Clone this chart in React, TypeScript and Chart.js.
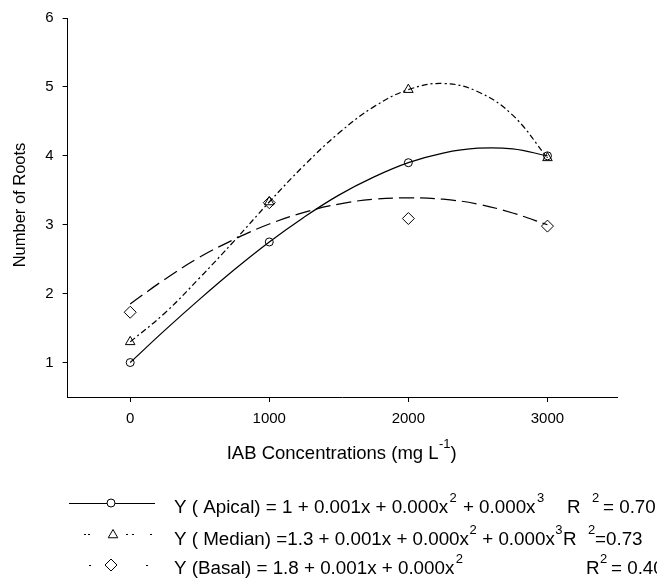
import React, { useEffect, useRef } from "react";
import { Chart, registerables } from "chart.js";

Chart.register(...registerables);

// ---- data ----
const concentrations = [0, 1000, 2000, 3000];
const apicalRoots = [1.0, 2.75, 3.9, 4.0];
const medianRoots = [1.3, 3.33, 4.96, 3.97];
const basalRoots = [1.73, 3.32, 3.09, 2.98];

// fitted regression curves, sampled along the drawn curves
const fitConcentrations = [0, 250, 500, 750, 1000, 1250, 1500, 1750, 2000, 2250, 2500, 2750, 3000];
const apicalFit = [1.0, 1.47, 1.92, 2.35, 2.75, 3.11, 3.43, 3.69, 3.9, 4.04, 4.11, 4.1, 4.0];
const medianFit = [1.3, 1.72, 2.23, 2.77, 3.33, 3.86, 4.33, 4.71, 4.96, 5.05, 4.93, 4.59, 3.97];
const basalFit = [1.85, 2.21, 2.53, 2.79, 3.01, 3.18, 3.3, 3.37, 3.39, 3.37, 3.3, 3.17, 3.0];

const xTickValues = [0, 1000, 2000, 3000];
const yTickValues = [1, 2, 3, 4, 5, 6];
const xRange = [-450, 3500];
const yRange = [0.5, 6];

const yAxisTitle = "Number of Roots";
const xAxisTitle = ["IAB Concentrations (mg L", "-1", ")"];

const apicalEquation = ["Y ( Apical) = 1 + 0.001x + 0.000x", "2", " + 0.000x", "3"];
const medianEquation = ["Y ( Median) =1.3 + 0.001x + 0.000x", "2", " + 0.000x", "3"];
const basalEquation = ["Y (Basal) = 1.8 + 0.001x + 0.000x", "2"];
const rSquaredValues = ["= 0.70", "=0.73", "= 0.40"];

const FONT = '"Liberation Sans", Arial, Helvetica, sans-serif';

const toPoints = (xs: number[], ys: number[]) => xs.map((x, i) => ({ x, y: ys[i] }));

function drawCircle(ctx: CanvasRenderingContext2D, x: number, y: number, r: number) {
  ctx.beginPath();
  ctx.arc(x, y, r, 0, Math.PI * 2);
  ctx.stroke();
}
function drawTriangle(ctx: CanvasRenderingContext2D, x: number, y: number, r: number) {
  ctx.beginPath();
  ctx.moveTo(x, y - r);
  ctx.lineTo(x + r * Math.sin((2 * Math.PI) / 3), y - r * Math.cos((2 * Math.PI) / 3));
  ctx.lineTo(x + r * Math.sin((4 * Math.PI) / 3), y - r * Math.cos((4 * Math.PI) / 3));
  ctx.closePath();
  ctx.stroke();
}
function drawDiamond(ctx: CanvasRenderingContext2D, x: number, y: number, r: number) {
  ctx.beginPath();
  ctx.moveTo(x, y - r);
  ctx.lineTo(x + r, y);
  ctx.lineTo(x, y + r);
  ctx.lineTo(x - r, y);
  ctx.closePath();
  ctx.stroke();
}

const MAIN_SIZE = 18.8;
const SUP_SIZE = 13;

const annotationPlugin = {
  id: "annotations",
  afterDraw(chart: any) {
    const ctx: CanvasRenderingContext2D = chart.ctx;
    ctx.save();
    ctx.fillStyle = "#000";
    ctx.strokeStyle = "#000";
    ctx.lineWidth = 1;

    // y axis title
    ctx.save();
    ctx.font = `16.5px ${FONT}`;
    ctx.translate(25, 205);
    ctx.rotate(-Math.PI / 2);
    ctx.textAlign = "center";
    ctx.textBaseline = "alphabetic";
    ctx.fillText(yAxisTitle, 0, 0);
    ctx.restore();

    // x axis title
    ctx.textAlign = "left";
    ctx.textBaseline = "alphabetic";
    let tx = 226.7;
    ctx.font = `18.5px ${FONT}`;
    ctx.fillText(xAxisTitle[0], tx, 458.5);
    tx += ctx.measureText(xAxisTitle[0]).width + 0.5;
    ctx.font = `${SUP_SIZE}px ${FONT}`;
    ctx.fillText(xAxisTitle[1], tx, 448);
    tx += ctx.measureText(xAxisTitle[1]).width;
    ctx.font = `18.5px ${FONT}`;
    ctx.fillText(xAxisTitle[2], tx, 458.5);

    // legend equations (main text and superscripts flow one after another)
    const rows = [
      { texts: apicalEquation, base: 513, gap: 1.5, rX: 567, r2X: 592, eqX: 603 },
      { texts: medianEquation, base: 545, gap: 0.5, rX: 563, r2X: 588, eqX: 595 },
      { texts: basalEquation, base: 574, gap: 1.5, rX: 586, r2X: 600, eqX: 611 },
    ];
    rows.forEach((row, ri) => {
      let x = 174;
      row.texts.forEach((t, i) => {
        const sup = i % 2 === 1;
        if (sup) x += row.gap;
        ctx.font = sup ? `${SUP_SIZE}px ${FONT}` : `${MAIN_SIZE}px ${FONT}`;
        ctx.fillText(t, x, sup ? row.base - 11 : row.base);
        x += ctx.measureText(t).width + (sup ? row.gap * 0.6 : 0);
      });
      ctx.font = `${MAIN_SIZE}px ${FONT}`;
      ctx.fillText("R", row.rX, row.base);
      ctx.font = `${SUP_SIZE}px ${FONT}`;
      ctx.fillText("2", row.r2X, row.base - 11);
      ctx.font = `${MAIN_SIZE}px ${FONT}`;
      ctx.fillText(rSquaredValues[ri], row.eqX, row.base);
    });

    // legend samples
    ctx.beginPath();
    ctx.moveTo(69, 503.5);
    ctx.lineTo(107, 503.5);
    ctx.moveTo(115, 503.5);
    ctx.lineTo(155, 503.5);
    ctx.stroke();
    drawCircle(ctx, 111, 503, 4);

    const dots2 = [[84, 86], [88, 90], [126, 128], [132, 134], [150, 152]];
    ctx.beginPath();
    dots2.forEach(([a, b]) => {
      ctx.moveTo(a, 534.5);
      ctx.lineTo(b, 534.5);
    });
    ctx.stroke();
    drawTriangle(ctx, 113, 535, 5.5);

    const dots3 = [[89, 91], [146, 148]];
    ctx.beginPath();
    dots3.forEach(([a, b]) => {
      ctx.moveTo(a, 565.5);
      ctx.lineTo(b, 565.5);
    });
    ctx.stroke();
    drawDiamond(ctx, 111, 565, 6);

    ctx.restore();
  },
};

export default function App() {
  const canvasRef = useRef<HTMLCanvasElement | null>(null);

  useEffect(() => {
    if (!canvasRef.current) return;
    const lineBase = {
      type: "line" as const,
      showLine: true,
      pointRadius: 0,
      borderColor: "#000",
      borderWidth: 1.25,
      tension: 0.4,
      fill: false,
    };
    const pointBase = {
      showLine: false,
      borderColor: "#000",
      backgroundColor: "rgba(0,0,0,0)",
      pointBorderWidth: 1,
      borderWidth: 1,
    };
    const chart = new Chart(canvasRef.current, {
      type: "scatter",
      data: {
        datasets: [
          { ...lineBase, label: "Apical fit", data: toPoints(fitConcentrations, apicalFit) },
          { ...lineBase, label: "Median fit", data: toPoints(fitConcentrations, medianFit), borderDash: [6, 3, 2, 3] },
          { ...lineBase, label: "Basal fit", data: toPoints(fitConcentrations, basalFit), borderDash: [15, 6] },
          { ...pointBase, label: "Apical", data: toPoints(concentrations, apicalRoots), pointStyle: "circle", pointRadius: 4 },
          { ...pointBase, label: "Median", data: toPoints(concentrations, medianRoots), pointStyle: "triangle", pointRadius: 5.5 },
          { ...pointBase, label: "Basal", data: toPoints(concentrations, basalRoots), pointStyle: "rectRot", pointRadius: 6 },
        ] as any,
      },
      options: {
        responsive: false,
        animation: false,
        devicePixelRatio: 1,
        layout: { padding: { left: 0, right: 40, top: 16.4, bottom: 0 } },
        plugins: { legend: { display: false }, tooltip: { enabled: false } },
        scales: {
          x: {
            type: "linear",
            min: xRange[0],
            max: xRange[1],
            afterBuildTicks: (scale: any) => {
              scale.ticks = xTickValues.map((v) => ({ value: v }));
            },
            afterFit: (scale: any) => {
              scale.height = 186;
            },
            ticks: {
              color: "#000",
              font: { family: FONT, size: 15 },
              padding: 8,
              maxRotation: 0,
              autoSkip: false,
              callback: (v: any) => String(v),
            },
            grid: { drawOnChartArea: false, drawTicks: true, tickLength: 5, color: "#000", lineWidth: 1 },
            border: { display: true, color: "#000", width: 1 },
          },
          y: {
            type: "linear",
            min: yRange[0],
            max: yRange[1],
            afterBuildTicks: (scale: any) => {
              scale.ticks = yTickValues.map((v) => ({ value: v }));
            },
            afterFit: (scale: any) => {
              scale.width = 67.6;
            },
            ticks: {
              color: "#000",
              font: { family: FONT, size: 15 },
              padding: 9,
              autoSkip: false,
              callback: (v: any) => String(v),
            },
            grid: { drawOnChartArea: false, drawTicks: true, tickLength: 5, color: "#000", lineWidth: 1 },
            border: { display: true, color: "#000", width: 1 },
          },
        },
      } as any,
      plugins: [annotationPlugin],
    });
    return () => chart.destroy();
  }, []);

  return (
    <div style={{ position: "absolute", left: 0, top: 0, width: 657, height: 583, background: "#fff" }}>
      <canvas ref={canvasRef} width={657} height={583} style={{ display: "block" }} />
    </div>
  );
}
